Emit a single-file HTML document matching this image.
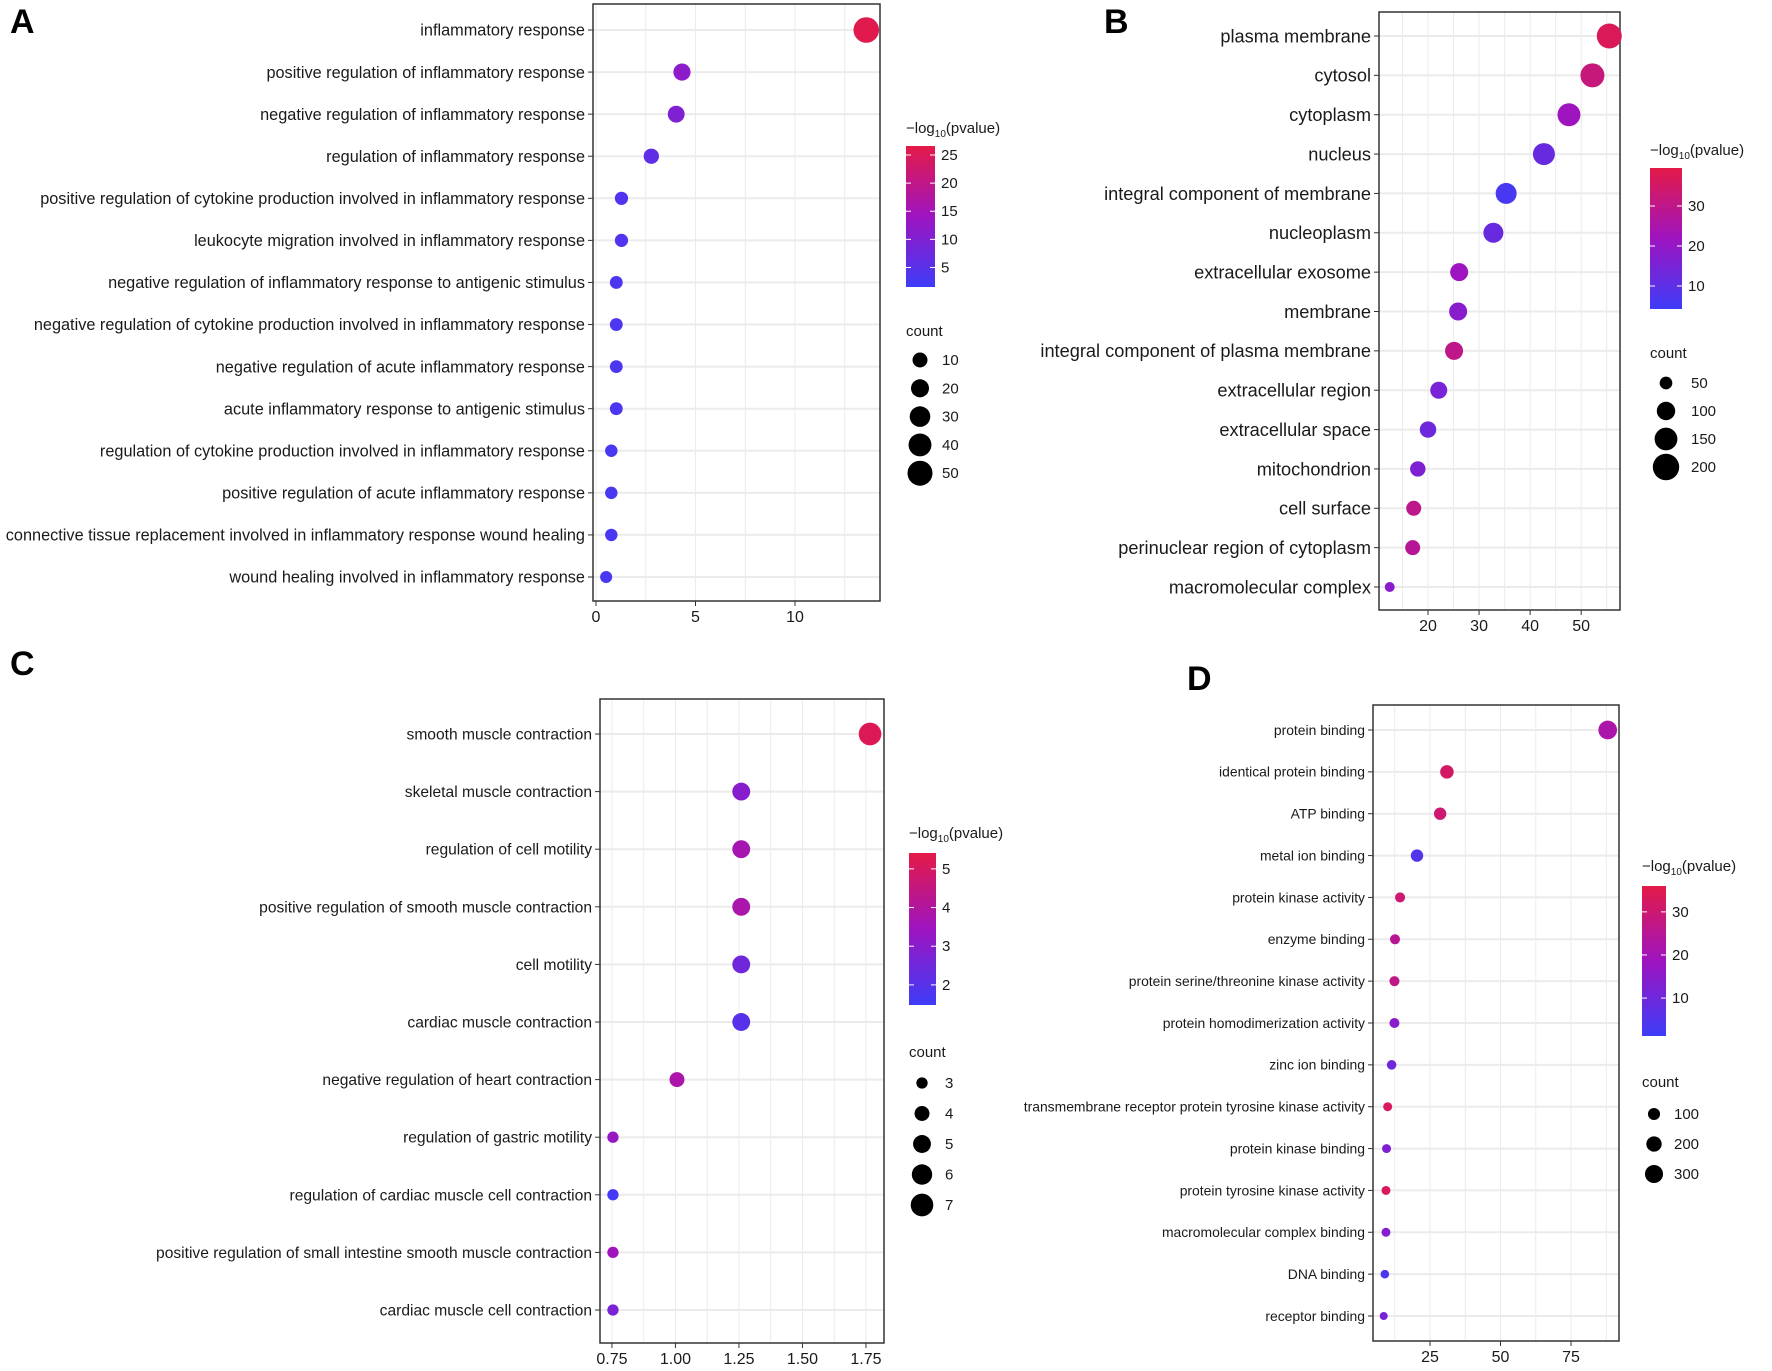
<!DOCTYPE html>
<html><head><meta charset="utf-8"><style>
html,body{margin:0;padding:0;background:#fff}
svg{display:block;font-family:"Liberation Sans",Arial,sans-serif}
</style></head><body>
<svg id="fig" width="1772" height="1371" viewBox="0 0 1772 1371"></svg>
<script>
// ---------- Panel A data ----------
const catsA = ["inflammatory response","positive regulation of inflammatory response","negative regulation of inflammatory response","regulation of inflammatory response","positive regulation of cytokine production involved in inflammatory response","leukocyte migration involved in inflammatory response","negative regulation of inflammatory response to antigenic stimulus","negative regulation of cytokine production involved in inflammatory response","negative regulation of acute inflammatory response","acute inflammatory response to antigenic stimulus","regulation of cytokine production involved in inflammatory response","positive regulation of acute inflammatory response","connective tissue replacement involved in inflammatory response wound healing","wound healing involved in inflammatory response"];
const xA = [13.58,4.32,4.03,2.78,1.28,1.28,1.02,1.02,1.02,1.02,0.77,0.77,0.77,0.51];
const pA = [26,12,10,6,4,4,3.5,3.5,3.5,3.5,3,3,3,3];
const nA = [53,17,16,11,5,5,4,4,4,4,3,3,3,2];
const ticksA = [0,5,10];
const colTicksA = [5,10,15,20,25];
const sizeTicksA = [10,20,30,40,50];
// ---------- Panel B data ----------
const catsB = ["plasma membrane","cytosol","cytoplasm","nucleus","integral component of membrane","nucleoplasm","extracellular exosome","membrane","integral component of plasma membrane","extracellular region","extracellular space","mitochondrion","cell surface","perinuclear region of cytoplasm","macromolecular complex"];
const xB = [55.5,52.2,47.6,42.7,35.3,32.8,26.1,25.9,25.1,22.1,20,18,17.2,17.0,12.5];
const pB = [37,32,22,12,6,12,22,18,30,15,13,16,30,28,18];
const nB = [179,166,152,140,128,117,96,96,96,86,81,72,68,68,33];
const ticksB = [20,30,40,50];
const colTicksB = [10,20,30];
const sizeTicksB = [50,100,150,200];
// ---------- Panel C data ----------
const catsC = ["smooth muscle contraction","skeletal muscle contraction","regulation of cell motility","positive regulation of smooth muscle contraction","cell motility","cardiac muscle contraction","negative regulation of heart contraction","regulation of gastric motility","regulation of cardiac muscle cell contraction","positive regulation of small intestine smooth muscle contraction","cardiac muscle cell contraction"];
const xC = [1.766,1.259,1.259,1.259,1.259,1.259,1.006,0.754,0.754,0.754,0.754];
const pC = [5.2,3.0,3.7,3.8,2.5,2.0,3.8,3.3,1.6,3.5,2.7];
const nC = [7,5,5,5,5,5,4,3,3,3,3];
const ticksC = [0.75,1.00,1.25,1.50,1.75];
const colTicksC = [2,3,4,5];
const sizeTicksC = [3,4,5,6,7];
// ---------- Panel D data ----------
const catsD = ["protein binding","identical protein binding","ATP binding","metal ion binding","protein kinase activity","enzyme binding","protein serine/threonine kinase activity","protein homodimerization activity","zinc ion binding","transmembrane receptor protein tyrosine kinase activity","protein kinase binding","protein tyrosine kinase activity","macromolecular complex binding","DNA binding","receptor binding"];
const xD = [88,31,28.6,20.4,14.4,12.6,12.4,12.4,11.4,10,9.6,9.4,9.4,9,8.6];
const pD = [22,32,30,5,30,25,27,15,10,33,13,33,14,4,12];
const nD = [325,142,108,108,50,50,50,50,40,27,27,27,27,20,10];
const ticksD = [25,50,75];
const colTicksD = [10,20,30];
const sizeTicksD = [100,200,300];

const NS="http://www.w3.org/2000/svg";
const svg=document.getElementById('fig');
function mk(tag,attrs,parent){const e=document.createElementNS(NS,tag);for(const k in attrs)e.setAttribute(k,attrs[k]);(parent||svg).appendChild(e);return e;}
const LOW=[62,60,248],MID=[158,20,192],HIGH=[228,26,72];
function colorOf(v,lo,hi){let t=(v-lo)/(hi-lo);t=Math.max(0,Math.min(1,t));
  let a,b,u; if(t<0.5){a=LOW;b=MID;u=t/0.5;}else{a=MID;b=HIGH;u=(t-0.5)/0.5;}
  const c=a.map((l,i)=>Math.round(l+(b[i]-l)*u));return `rgb(${c[0]},${c[1]},${c[2]})`;}

function panel(o){
  const g=mk('g',{});
  
  
  const sx=v=>o.L+(v-o.xmin)/(o.xmax-o.xmin)*(o.R-o.L);
  const n=o.cats.length;
  const sy=i=>o.y0+(o.y1-o.y0)*i/(n-1);
  const step=o.ticks[1]-o.ticks[0];
  for(let v=o.ticks[0]-step/2; v<=o.xmax; v+=step/2){ if(v<o.xmin) continue;
    const gl=mk('line',{x1:sx(v),x2:sx(v),y1:o.T,y2:o.B,stroke:'#ebebeb','stroke-width':1},g);
    
    }
  o.cats.forEach((c,i)=>{const gl=mk('line',{x1:o.L,x2:o.R,y1:sy(i),y2:sy(i),stroke:'#ebebeb','stroke-width':2},g);
    
    });
  const fr=mk('rect',{x:o.L,y:o.T,width:o.R-o.L,height:o.B-o.T,fill:'none',stroke:'#333','stroke-width':1.5},g);
  
  
  o.cats.forEach((c,i)=>{
    mk('line',{x1:o.L-5,x2:o.L,y1:sy(i),y2:sy(i),stroke:'#333','stroke-width':1},g);
    const t=mk('text',{x:o.L-8,y:sy(i)+o.fs*0.35,'text-anchor':'end','font-size':o.fs,fill:'#1a1a1a'},g);
    t.textContent=c;
    
    
  });
  o.ticks.forEach(v=>{
    mk('line',{x1:sx(v),x2:sx(v),y1:o.B,y2:o.B+5,stroke:'#333','stroke-width':1},g);
    const t=mk('text',{x:sx(v),y:o.B+21,'text-anchor':'middle','font-size':16,fill:'#1a1a1a'},g);
    t.textContent=o.tickFmt?o.tickFmt(v):v;
    
    
  });
  const rad=v=>Math.sqrt(Math.max(4,o.sa+o.sb*v));
  o.cats.forEach((c,i)=>{
    const d=mk('circle',{cx:sx(o.x[i]),cy:sy(i),r:rad(o.cnt[i]),fill:colorOf(o.p[i],o.clo,o.chi)},g);
    
    
  });
  const lt=mk('text',{x:o.letter[0],y:o.letter[1],'font-size':34,'font-weight':'bold',fill:'#000'},g);
  lt.textContent=o.letterText;
  
  
  const lg=o.leg;
  const tt=mk('text',{x:lg.x,y:lg.ty,'font-size':15,fill:'#1a1a1a'},g);
  tt.innerHTML='−log<tspan font-size="10" dy="4">10</tspan><tspan dy="-4">(pvalue)</tspan>';
  
  
  const gid='grad'+o.letterText;
  const defs=mk('defs',{},g);
  const lgd=mk('linearGradient',{id:gid,x1:0,y1:1,x2:0,y2:0},defs);
  [0,0.25,0.5,0.75,1].forEach(f=>mk('stop',{offset:f,'stop-color':colorOf(o.clo+(o.chi-o.clo)*f,o.clo,o.chi)},lgd));
  const cb=mk('rect',{x:lg.x,y:lg.cbT,width:lg.cbW,height:lg.cbB-lg.cbT,fill:`url(#${gid})`},g);
  
  
  const cy=v=>lg.cbB-(v-o.clo)/(o.chi-o.clo)*(lg.cbB-lg.cbT);
  o.colTicks.forEach(v=>{
    mk('line',{x1:lg.x,x2:lg.x+5,y1:cy(v),y2:cy(v),stroke:'#fff','stroke-width':1},g);
    mk('line',{x1:lg.x+lg.cbW-5,x2:lg.x+lg.cbW,y1:cy(v),y2:cy(v),stroke:'#fff','stroke-width':1},g);
    const t=mk('text',{x:lg.x+lg.cbW+6,y:cy(v)+5,'font-size':15,fill:'#1a1a1a'},g);
    t.textContent=v;
    
    
  });
  const ct=mk('text',{x:lg.x,y:lg.cty,'font-size':15,fill:'#1a1a1a'},g);
  ct.textContent='count';
  
  
  o.sizeTicks.forEach((v,i)=>{
    const yy=lg.s0+i*lg.sStep;
    const c=mk('circle',{cx:lg.scx,cy:yy,r:rad(v),fill:'#000'},g);
    
    
    const t=mk('text',{x:lg.slx,y:yy+5,'font-size':15,fill:'#1a1a1a'},g);
    t.textContent=v;
    
    
  });
}

panel({name:'panel-a',letterText:'A',letter:[10,33],cats:catsA,x:xA,p:pA,cnt:nA,ticks:ticksA,
  L:593,R:880,T:4,B:601,y0:30,y1:577,xmin:-0.15,xmax:14.27,fs:16.3,clo:1.53,chi:26.6,sa:31.25,sb:2.5,
  colTicks:colTicksA,sizeTicks:sizeTicksA,
  leg:{x:906,ty:133,cbT:146,cbB:287,cbW:29,cty:336,s0:360,sStep:28.3,scx:920,slx:942}});
panel({name:'panel-b',letterText:'B',letter:[1104,33],cats:catsB,x:xB,p:pB,cnt:nB,ticks:ticksB,
  L:1379,R:1620,T:12,B:610,y0:36,y1:587,xmin:10.4,xmax:57.6,fs:18.2,clo:4.25,chi:39.5,sa:-5,sb:0.9,
  colTicks:colTicksB,sizeTicks:sizeTicksB,
  leg:{x:1650,ty:155,cbT:168,cbB:309,cbW:32,cty:358,s0:383,sStep:28,scx:1666,slx:1691}});
panel({name:'panel-c',letterText:'C',letter:[10,675],cats:catsC,x:xC,p:pC,cnt:nC,ticks:ticksC,tickFmt:v=>v.toFixed(2),
  L:600,R:884,T:699,B:1343,y0:734,y1:1310,xmin:0.703,xmax:1.821,fs:15.6,clo:1.48,chi:5.41,sa:-40,sb:24,
  colTicks:colTicksC,sizeTicks:sizeTicksC,
  leg:{x:909,ty:838,cbT:853,cbB:1005,cbW:27,cty:1057,s0:1083,sStep:30.5,scx:922,slx:945}});
panel({name:'panel-d',letterText:'D',letter:[1187,690],cats:catsD,x:xD,p:pD,cnt:nD,ticks:ticksD,
  L:1373,R:1619,T:705,B:1341,y0:730,y1:1316,xmin:4.8,xmax:92,fs:13.9,clo:1.2,chi:36,sa:14,sb:0.225,
  colTicks:colTicksD,sizeTicks:sizeTicksD,
  leg:{x:1642,ty:871,cbT:886,cbB:1036,cbW:24,cty:1087,s0:1114,sStep:30,scx:1654,slx:1674}});
</script>
</body></html>
